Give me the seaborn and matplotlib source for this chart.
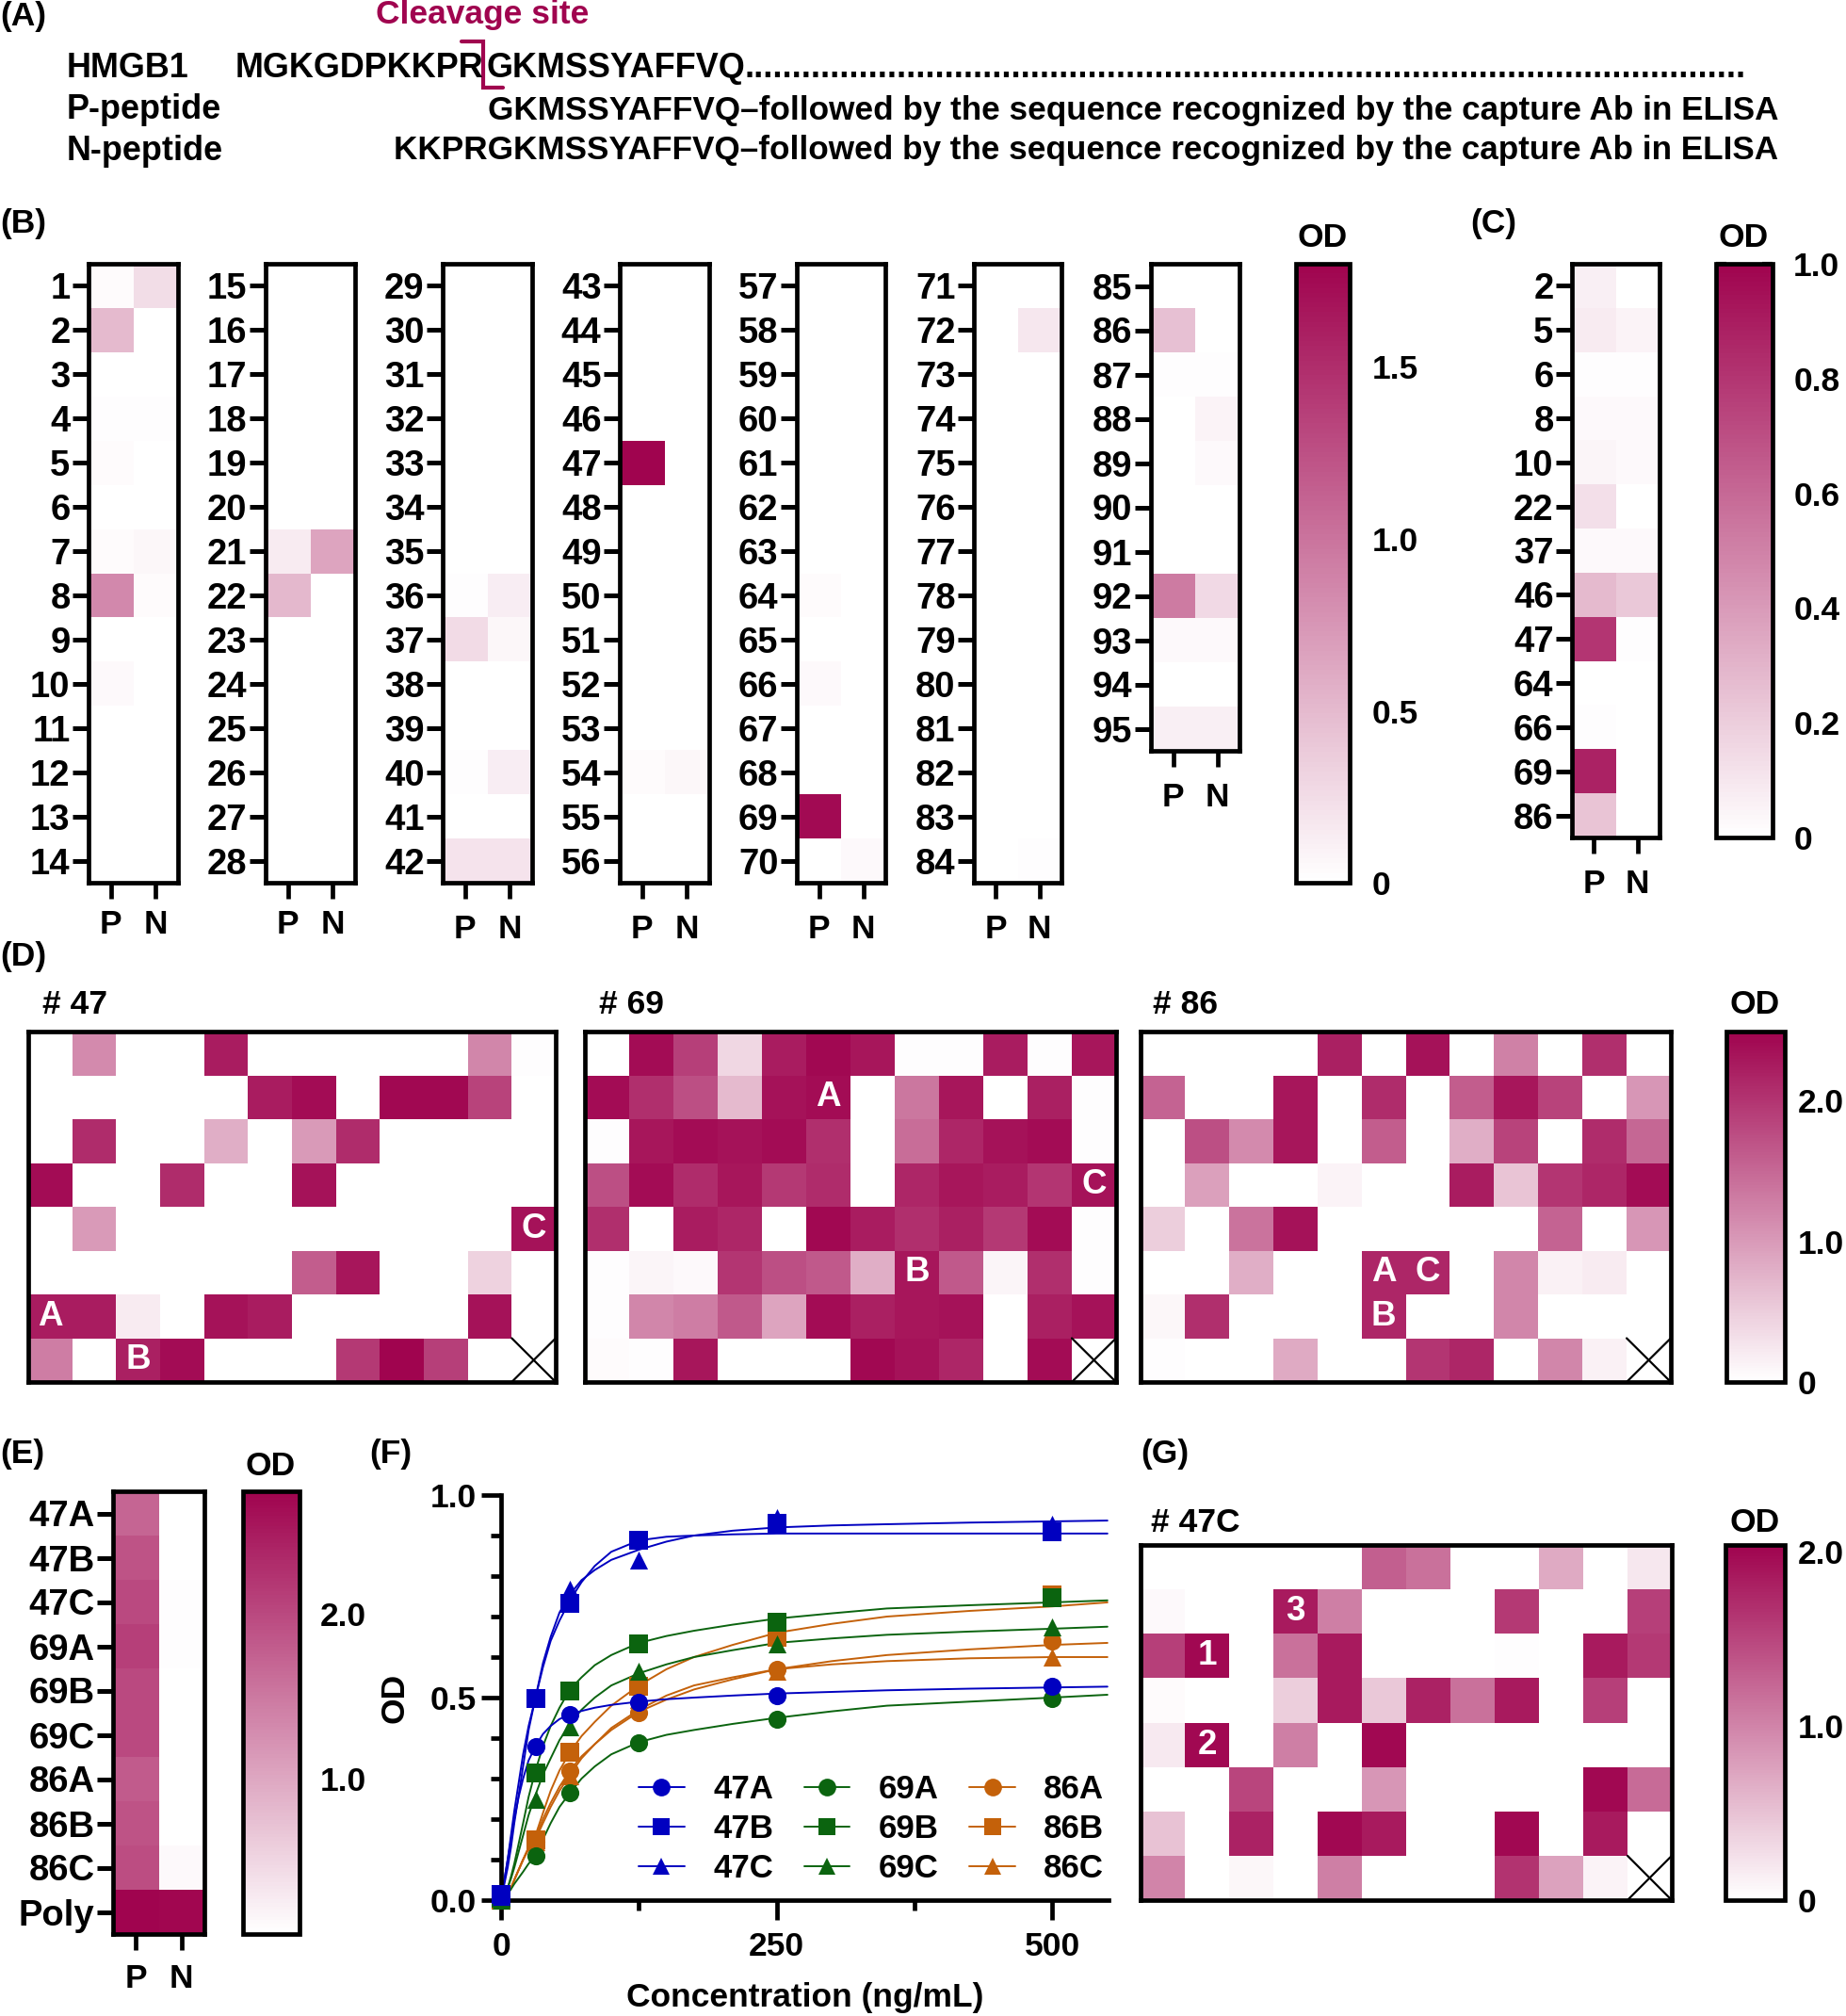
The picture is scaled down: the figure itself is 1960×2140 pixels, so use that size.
import matplotlib
matplotlib.use("Agg")
import matplotlib.pyplot as plt
import numpy as np
import seaborn as sns
from matplotlib.colors import LinearSegmentedColormap
from matplotlib.lines import Line2D
from matplotlib.ticker import MultipleLocator

W, H = 1960, 2140
DEEP = "#A0044F"
FS = 25.5
ROW_FS = 27.5
FRAME = 3.4

# ---- panel B : screening OD, columns P / N
b_rows = [[str(n) for n in range(a, a + 14)] for a in (1, 15, 29, 43, 57, 71)]
b_rows.append([str(n) for n in range(85, 96)])
b1_p = [0.04, 0.50, 0, 0.02, 0.04, 0, 0.03, 0.85, 0, 0.05, 0, 0, 0, 0]
b1_n = [0.25, 0, 0, 0.02, 0, 0, 0.07, 0.03, 0, 0, 0, 0, 0, 0]
b2_p = [0, 0.01, 0, 0, 0, 0, 0.15, 0.52, 0, 0, 0, 0, 0, 0]
b2_n = [0, 0, 0, 0, 0, 0, 0.65, 0, 0, 0, 0, 0, 0, 0]
b3_p = [0, 0, 0, 0.01, 0, 0, 0, 0.02, 0.26, 0, 0, 0.02, 0, 0.2]
b3_n = [0, 0, 0, 0.01, 0, 0, 0, 0.14, 0.06, 0, 0, 0.13, 0, 0.2]
b4_p = [0, 0, 0, 0, 1.8, 0, 0, 0, 0, 0, 0, 0.03, 0, 0]
b4_n = [0, 0, 0, 0.01, 0, 0, 0, 0, 0, 0, 0, 0.06, 0, 0]
b5_p = [0, 0, 0, 0, 0, 0, 0, 0.04, 0, 0.05, 0, 0, 1.75, 0.01]
b5_n = [0, 0, 0, 0, 0, 0, 0, 0, 0, 0, 0, 0, 0, 0.05]
b6_p = [0, 0.01, 0, 0, 0, 0, 0, 0, 0, 0, 0, 0, 0, 0]
b6_n = [0, 0.18, 0, 0, 0, 0, 0, 0, 0, 0, 0, 0, 0, 0.02]
b7_p = [0, 0.45, 0.02, 0.01, 0.01, 0, 0, 0.95, 0.05, 0, 0.12]
b7_n = [0, 0, 0.02, 0.09, 0.05, 0, 0, 0.27, 0.05, 0, 0.12]

# ---- panel C
c_rows = ["2", "5", "6", "8", "10", "22", "37", "46", "47", "64", "66", "69", "86"]
c_p = [0.07, 0.08, 0.01, 0.03, 0.04, 0.13, 0.03, 0.28, 0.80, 0, 0.01, 0.88, 0.24]
c_n = [0, 0.05, 0.01, 0.03, 0.03, 0, 0.03, 0.22, 0.01, 0, 0, 0, 0]

# ---- panel D : 8 x 12 plates
d47 = [
    [0, 1.15, 0, 0, 2.25, 0, 0, 0, 0, 0, 1.2, 0.02],
    [0, 0, 0, 0, 0, 2.25, 2.4, 0, 2.45, 2.45, 1.85, 0],
    [0, 2.1, 0, 0, 0.8, 0, 1.0, 2.1, 0, 0, 0, 0],
    [2.4, 0, 0, 2.1, 0, 0, 2.35, 0, 0, 0, 0, 0],
    [0, 1.0, 0, 0, 0, 0, 0, 0, 0, 0, 0, 2.35],
    [0, 0, 0, 0, 0, 0, 1.6, 2.3, 0, 0, 0.45, 0],
    [2.25, 2.25, 0.2, 0, 2.35, 2.25, 0, 0, 0, 0, 2.35, 0],
    [1.3, 0, 2.2, 2.4, 0, 0, 0, 1.95, 2.5, 1.9, 0, 0],
]
d69 = [
    [0, 2.4, 1.9, 0.4, 2.25, 2.45, 2.3, 0.02, 0.02, 2.25, 0.03, 2.3],
    [2.4, 2.05, 1.75, 0.7, 2.35, 2.4, 0, 1.35, 2.3, 0, 2.2, 0.02],
    [0.03, 2.3, 2.4, 2.35, 2.4, 2.05, 0, 1.45, 2.15, 2.35, 2.4, 0.02],
    [1.75, 2.4, 2.1, 2.3, 1.95, 2.1, 0, 2.15, 2.3, 2.25, 2.0, 2.35],
    [2.05, 0, 2.25, 2.15, 0, 2.45, 2.25, 2.05, 2.2, 1.95, 2.4, 0.02],
    [0.02, 0.1, 0.07, 2.0, 1.75, 1.65, 0.8, 2.3, 1.65, 0.1, 2.05, 0.02],
    [0.02, 1.2, 1.3, 1.65, 0.9, 2.4, 2.2, 2.3, 2.35, 0, 2.2, 2.35],
    [0.04, 0.02, 2.3, 0, 0, 0, 2.45, 2.35, 2.15, 0, 2.4, 0],
]
d86 = [
    [0, 0.01, 0.01, 0.01, 2.2, 0, 2.35, 0.01, 1.25, 0, 2.05, 0.01],
    [1.55, 0, 0, 2.3, 0, 2.1, 0.01, 1.6, 2.3, 1.85, 0, 1.05],
    [0, 1.75, 1.15, 2.3, 0, 1.6, 0.01, 0.8, 1.85, 0, 2.1, 1.5],
    [0.01, 0.95, 0, 0, 0.12, 0, 0, 2.25, 0.6, 2.0, 2.15, 2.4],
    [0.5, 0, 1.4, 2.35, 0, 0, 0, 0, 0, 1.55, 0, 1.05],
    [0.01, 0, 0.8, 0, 0, 2.15, 2.15, 0, 1.2, 0.15, 0.2, 0],
    [0.08, 2.05, 0, 0, 0, 2.15, 0, 0, 1.2, 0, 0, 0.01],
    [0.02, 0.01, 0.01, 0.85, 0, 0, 2.0, 2.15, 0, 1.2, 0.15, 0],
]
d47_marks = [["", "", "", "", "", "", "", "", "", "", "", ""] for i in range(8)]
d69_marks = [["", "", "", "", "", "", "", "", "", "", "", ""] for i in range(8)]
d86_marks = [["", "", "", "", "", "", "", "", "", "", "", ""] for i in range(8)]
d47_marks[6][0], d47_marks[7][2], d47_marks[4][11] = "A", "B", "C"
d69_marks[1][5], d69_marks[5][7], d69_marks[3][11] = "A", "B", "C"
d86_marks[5][5], d86_marks[6][5], d86_marks[5][6] = "A", "B", "C"

# ---- panel E
e_rows = ["47A", "47B", "47C", "69A", "69B", "69C", "86A", "86B", "86C", "Poly"]
e_p = [1.7, 1.9, 2.0, 2.1, 2.0, 2.0, 1.8, 1.9, 1.95, 2.74]
e_n = [0.08, 0.08, 0.09, 0.1, 0.08, 0.08, 0.08, 0.08, 0.13, 2.7]

# ---- panel F : titration points and the fitted curves
conc = [0, 31.25, 62.5, 125, 250, 500]
od_47a = [0.01, 0.38, 0.458, 0.488, 0.504, 0.527]
od_47b = [0.015, 0.498, 0.733, 0.888, 0.931, 0.91]
od_47c = [0.01, 0.50, 0.767, 0.84, 0.945, 0.928]
od_69a = [0, 0.11, 0.266, 0.389, 0.447, 0.497]
od_69b = [0.005, 0.315, 0.516, 0.633, 0.686, 0.746]
od_69c = [0, 0.25, 0.428, 0.564, 0.633, 0.675]
od_86a = [0, 0.145, 0.318, 0.463, 0.569, 0.64]
od_86b = [0, 0.15, 0.366, 0.527, 0.65, 0.753]
od_86c = [0, 0.145, 0.306, 0.495, 0.564, 0.60]
curve_x = [0, 3, 6, 9, 12, 16, 20, 25, 31.25, 38, 45, 53, 62.5, 73, 85, 100, 125, 150, 175, 210, 250, 300, 350, 425, 500, 550]
fit_47a = [0.01, 0.05, 0.10, 0.15, 0.20, 0.255, 0.30, 0.345, 0.38, 0.41, 0.43, 0.447, 0.458, 0.467, 0.475, 0.482, 0.49, 0.496, 0.50, 0.505, 0.51, 0.514, 0.518, 0.522, 0.525, 0.527]
fit_47b = [0.01, 0.05, 0.10, 0.16, 0.22, 0.29, 0.36, 0.43, 0.50, 0.575, 0.64, 0.69, 0.74, 0.785, 0.825, 0.86, 0.888, 0.897, 0.90, 0.903, 0.905, 0.905, 0.905, 0.905, 0.905, 0.905]
fit_47c = [0.01, 0.04, 0.08, 0.13, 0.19, 0.26, 0.33, 0.42, 0.50, 0.585, 0.65, 0.71, 0.755, 0.79, 0.815, 0.84, 0.865, 0.885, 0.90, 0.912, 0.92, 0.925, 0.928, 0.932, 0.935, 0.937]
fit_69a = [0, 0.007, 0.015, 0.027, 0.04, 0.055, 0.07, 0.09, 0.11, 0.15, 0.19, 0.23, 0.265, 0.30, 0.33, 0.36, 0.39, 0.408, 0.42, 0.435, 0.45, 0.466, 0.48, 0.49, 0.50, 0.507]
fit_69b = [0, 0.012, 0.03, 0.058, 0.09, 0.14, 0.19, 0.255, 0.32, 0.38, 0.43, 0.475, 0.52, 0.55, 0.58, 0.605, 0.635, 0.652, 0.665, 0.68, 0.695, 0.708, 0.72, 0.728, 0.735, 0.74]
fit_69c = [0, 0.012, 0.03, 0.053, 0.08, 0.12, 0.16, 0.21, 0.26, 0.31, 0.35, 0.395, 0.435, 0.47, 0.50, 0.53, 0.56, 0.582, 0.60, 0.617, 0.635, 0.646, 0.655, 0.663, 0.67, 0.675]
fit_86a = [0, 0.006, 0.015, 0.03, 0.05, 0.075, 0.10, 0.13, 0.155, 0.20, 0.24, 0.28, 0.32, 0.355, 0.385, 0.42, 0.465, 0.495, 0.52, 0.545, 0.57, 0.59, 0.605, 0.619, 0.63, 0.635]
fit_86b = [0, 0.006, 0.015, 0.03, 0.05, 0.075, 0.10, 0.13, 0.16, 0.215, 0.27, 0.32, 0.365, 0.405, 0.44, 0.48, 0.53, 0.57, 0.60, 0.63, 0.66, 0.682, 0.70, 0.714, 0.725, 0.735]
fit_86c = [0, 0.006, 0.015, 0.03, 0.05, 0.075, 0.10, 0.125, 0.15, 0.19, 0.23, 0.27, 0.31, 0.35, 0.385, 0.425, 0.47, 0.505, 0.53, 0.55, 0.57, 0.582, 0.59, 0.597, 0.60, 0.60]
clones = ["47A", "47B", "47C", "69A", "69B", "69C", "86A", "86B", "86C"]

# ---- panel G
g47c = [
    [0, 0.01, 0.01, 0.01, 0.01, 1.3, 1.15, 0, 0, 0.7, 0, 0.2],
    [0.06, 0, 0.01, 1.85, 1.05, 0, 0.01, 0, 1.6, 0, 0, 1.55],
    [1.55, 2.0, 0, 1.15, 1.85, 0, 0, 0, 0.02, 0, 1.85, 1.6],
    [0.04, 0, 0, 0.4, 1.85, 0.45, 1.8, 1.15, 1.85, 0, 1.55, 0],
    [0.18, 2.0, 0, 1.05, 0, 2.0, 0, 0, 0, 0.01, 0, 0],
    [0.01, 0, 1.5, 0, 0, 0.85, 0, 0, 0, 0, 2.0, 1.2],
    [0.5, 0, 1.8, 0, 2.0, 1.85, 0.01, 0, 2.0, 0, 1.85, 0],
    [1.0, 0, 0.07, 0.01, 1.05, 0, 0.01, 0.01, 1.65, 0.75, 0.1, 0],
]
g_marks = [["", "", "", "", "", "", "", "", "", "", "", ""] for i in range(8)]
g_marks[2][1], g_marks[4][1], g_marks[1][3] = "1", "2", "3"

sns.set_theme(style="white")
plt.rcParams["font.family"] = ["Liberation Sans", "DejaVu Sans"]
plt.rcParams["font.weight"] = "bold"
plt.rcParams["axes.labelweight"] = "bold"
plt.rcParams["text.color"] = "black"
plt.rcParams["xtick.color"] = "black"
plt.rcParams["ytick.color"] = "black"
plt.rcParams["axes.labelcolor"] = "black"

cmap = LinearSegmentedColormap.from_list("od", ["#FFFFFF", DEEP], N=128)
fig = plt.figure(figsize=(W / 100, H / 100), dpi=100)


def px_axes(x0, y0, x1, y1):
    return fig.add_axes([x0 / W, 1 - y1 / H, (x1 - x0) / W, (y1 - y0) / H])


def style_frame(ax):
    for s in ax.spines.values():
        s.set_visible(True)
        s.set_linewidth(FRAME)
        s.set_color("black")


def draw_map(box, data, vmax, rows=None, pad=8, cbar_box=None, ticks=None, marks=None, cross=False,
             vmin=0, cpad=16):
    ax = px_axes(*box)
    has_cbar = cbar_box is not None
    cax = px_axes(*cbar_box) if has_cbar else None
    sns.heatmap(
        np.array(data, dtype=float), ax=ax, cmap=cmap, vmin=vmin, vmax=vmax,
        cbar=has_cbar, cbar_ax=cax, cbar_kws={"ticks": ticks} if has_cbar else None,
        annot=np.array(marks) if marks is not None else False, fmt="",
        annot_kws={"color": "white", "fontsize": FS + 1, "fontweight": "bold"},
        xticklabels=["P", "N"] if rows is not None else False,
        yticklabels=rows if rows is not None else False,
    )
    style_frame(ax)
    if rows is not None:
        ax.tick_params(axis="x", length=12, width=3.4, pad=pad, labelsize=FS, labelrotation=0, bottom=True)
        ax.tick_params(axis="y", length=12.5, width=3.6, pad=1.5, labelsize=ROW_FS, labelrotation=0, left=True)
        plt.setp(ax.get_yticklabels(), va="center_baseline")
    if cross:
        ax.plot([11, 12], [7, 8], color="black", lw=1.6, clip_on=True)
        ax.plot([11, 12], [8, 7], color="black", lw=1.6, clip_on=True)
    if has_cbar:
        cb = ax.collections[0].colorbar
        cb.outline.set_visible(True)
        cb.outline.set_linewidth(FRAME)
        cb.outline.set_edgecolor("black")
        cb.set_ticks(ticks)
        cb.set_ticklabels(["0" if t == 0 else f"{t:.1f}" for t in ticks])
        cax.tick_params(axis="y", direction="in", length=8, width=3, left=True, right=True,
                        labelright=True, pad=cpad, labelsize=FS)
    return ax


# panel B
b_boxes = [(94, 280, 189, 937), (282, 280, 377, 937), (470, 280, 565, 937), (658, 280, 753, 937),
           (846, 280, 940, 937), (1034, 280, 1127, 937), (1222, 280, 1316, 797)]
b_values = [(b1_p, b1_n), (b2_p, b2_n), (b3_p, b3_n), (b4_p, b4_n), (b5_p, b5_n), (b6_p, b6_n), (b7_p, b7_n)]
for i in range(7):
    pad = 8 if i < 2 else 12
    mat = np.column_stack(b_values[i])
    if i == 0:
        draw_map(b_boxes[i], mat, 1.8, b_rows[i], pad, (1376, 280, 1433, 937), [0, 0.5, 1.0, 1.5], cpad=17)
    else:
        draw_map(b_boxes[i], mat, 1.8, b_rows[i], pad)

# panel C
draw_map((1669, 280, 1762, 889), np.column_stack((c_p, c_n)), 1.0, c_rows, 12,
         (1822, 280, 1882, 889), [0, 0.2, 0.4, 0.6, 0.8, 1.0])

# panel D
draw_map((30, 1095, 590, 1467), d47, 2.49, marks=d47_marks, cross=True)
draw_map((621, 1095, 1185, 1467), d69, 2.49, marks=d69_marks, cross=True)
draw_map((1211, 1095, 1774, 1467), d86, 2.49, cbar_box=(1833, 1095, 1895, 1467), ticks=[0, 1.0, 2.0],
         marks=d86_marks, cross=True, cpad=10)

# panel E, the bar of this one starts a little above zero
draw_map((120, 1583, 217, 2053), np.column_stack((e_p, e_n)), 2.74, e_rows, 10,
         (258, 1583, 318, 2053), [1.0, 2.0], vmin=0.06)

# panel G
draw_map((1211, 1640, 1775, 2017), g47c, 2.04, cbar_box=(1832, 1640, 1895, 2017), ticks=[0, 1.0, 2.0],
         marks=g_marks, cross=True, cpad=10)

# panel F
ax = px_axes(532, 1587, 1177, 2017)
points = [od_47a, od_47b, od_47c, od_69a, od_69b, od_69c, od_86a, od_86b, od_86c]
fits = [fit_47a, fit_47b, fit_47c, fit_69a, fit_69b, fit_69c, fit_86a, fit_86b, fit_86c]
colors = ["#0000C0"] * 3 + ["#0B640F"] * 3 + ["#C4610A"] * 3
shapes = ["o", "s", "^"] * 3
for i in reversed(range(9)):
    sns.lineplot(x=curve_x, y=fits[i], color=colors[i], lw=1.4, ax=ax, estimator=None, sort=False)
    sns.scatterplot(x=conc, y=points[i], marker=shapes[i], color=colors[i], s=190, linewidth=0,
                    ax=ax, clip_on=False, zorder=3)
ax.set_xlim(0, 551)
ax.set_ylim(0, 1)
ax.set_xticks([0, 250, 500])
ax.set_yticks([0, 0.5, 1.0])
ax.set_yticklabels(["0.0", "0.5", "1.0"])
ax.xaxis.set_minor_locator(MultipleLocator(125))
ax.yaxis.set_minor_locator(MultipleLocator(0.1))
ax.tick_params(axis="both", which="major", length=15, width=3.4, labelsize=FS, left=True, bottom=True)
ax.tick_params(axis="both", which="minor", length=8, width=3.4, left=True, bottom=True)
ax.tick_params(axis="x", which="major", pad=9)
ax.tick_params(axis="y", which="major", pad=4)
for side in ("top", "right"):
    ax.spines[side].set_visible(False)
for side in ("left", "bottom"):
    ax.spines[side].set_visible(True)
    ax.spines[side].set_linewidth(FRAME)
    ax.spines[side].set_color("black")
ax.set_xlabel("Concentration (ng/mL)", fontsize=FS, va="center")
ax.set_ylabel("OD", fontsize=FS, va="center")
ax.xaxis.set_label_coords(0.5, -0.24)
ax.yaxis.set_label_coords(-0.175, 0.5)
handles = [Line2D([], [], color=colors[i], marker=shapes[i], markersize=13.5, markeredgewidth=0, lw=1.4)
           for i in range(9)]
ax.legend(handles, clones, ncols=3, frameon=False, fontsize=25.1, loc="upper left",
          bbox_to_anchor=(146 / 645, (2017 - 1883) / 430), borderpad=0, borderaxespad=0,
          handlelength=1.4, handletextpad=0.87, columnspacing=0.93, labelspacing=0.26)

# overlay for the free text of the figure
over = fig.add_axes([0, 0, 1, 1], facecolor="none")
over.set_xlim(0, W)
over.set_ylim(H, 0)
over.axis("off")
for label, x, y in [("(A)", 0, 17), ("(B)", 0, 238), ("(C)", 1561, 238), ("(D)", 0, 1016),
                    ("(E)", 0, 1544), ("(F)", 392, 1544), ("(G)", 1211, 1544)]:
    over.text(x, y, label, fontsize=FS, va="center", ha="left")
for label, x, y in [("HMGB1", 71, 73), ("P-peptide", 71, 117), ("N-peptide", 71, 160),
                    ("MGKGDPKKPR", 250, 73), ("GKMSSYAFFVQ", 516, 73), ("." * 105, 790, 73)]:
    over.text(x, y, label, fontsize=25.9, va="center", ha="left")
for label, x, y in [("# 47", 45, 1066), ("# 69", 636, 1066), ("# 86", 1224, 1066), ("# 47C", 1222, 1616)]:
    over.text(x, y, label, fontsize=FS, va="center", ha="left")
tail = "GKMSSYAFFVQ\u2013followed by the sequence recognized by the capture Ab in ELISA"
over.text(1888, 117, tail, fontsize=25.3, va="center", ha="right")
over.text(1888, 160, "KKPR" + tail, fontsize=25.3, va="center", ha="right")
for x, y in [(1404, 252), (1851, 252), (1863, 1066), (287, 1556), (1863, 1616)]:
    over.text(x, y, "OD", fontsize=FS, va="center", ha="center")
over.text(512, 16, "Cleavage site", fontsize=FS, va="center", ha="center", color=DEEP)
over.plot([490, 513, 513, 534], [44, 44, 93, 93], color=DEEP, lw=3, solid_joinstyle="miter")

fig.savefig("out.png", dpi=100, facecolor="white")
